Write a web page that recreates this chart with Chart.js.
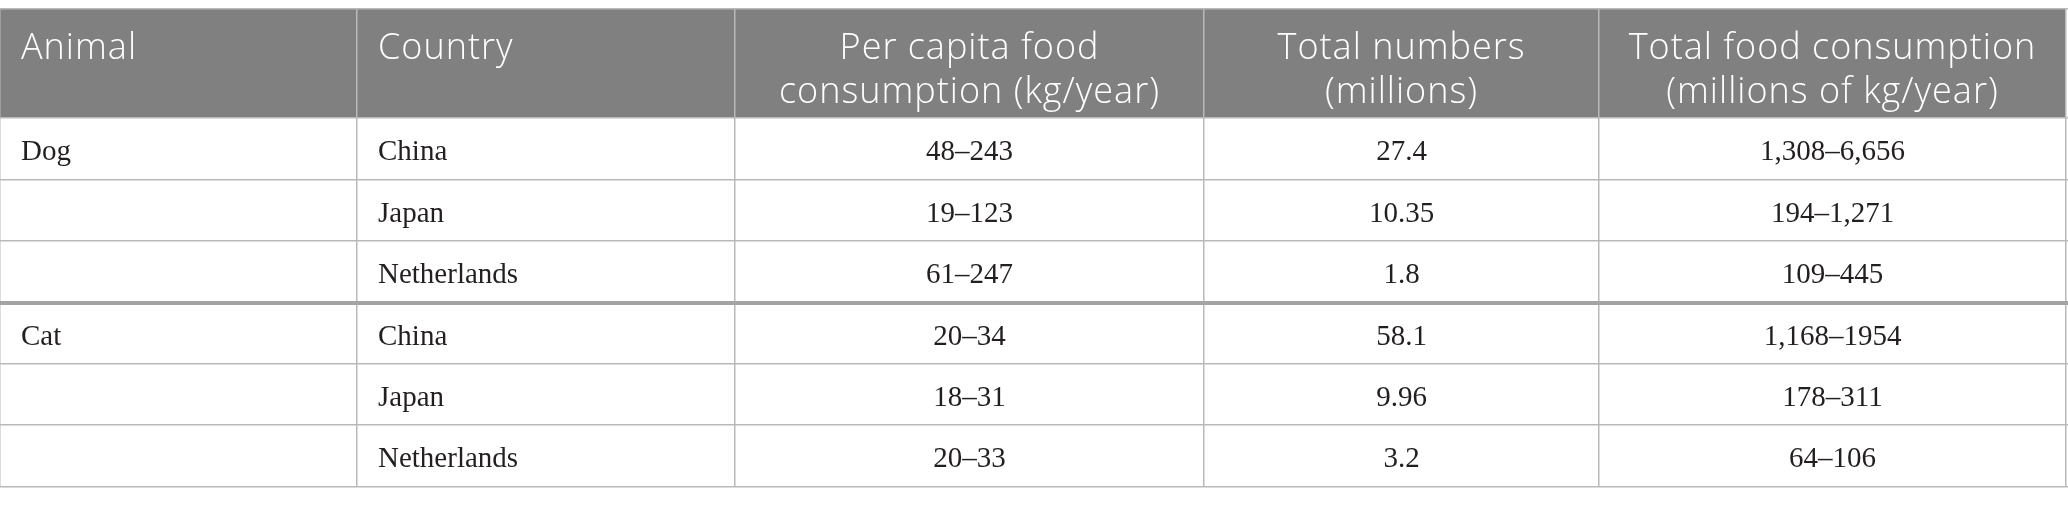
<!DOCTYPE html>
<html>
<head>
<meta charset="utf-8">
<script src="https://cdn.jsdelivr.net/npm/chart.js@4.4.1/dist/chart.umd.min.js"></script>
<style>
  html, body { margin: 0; padding: 0; background: #fff; }
  #wrap { width: 2068px; height: 505px; }
</style>
</head>
<body>
<div id="wrap"><canvas id="tableChart" width="2068" height="505"></canvas></div>
<script>
// table content
const headers = [
    ['Animal'],
    ['Country'],
    ['Per capita food', 'consumption (kg/year)'],
    ['Total numbers', '(millions)'],
    ['Total food consumption', '(millions of kg/year)']
];
const animals = ['Dog', '', '', 'Cat', '', ''];
const countries = ['China', 'Japan', 'Netherlands', 'China', 'Japan', 'Netherlands'];
const perCapita = ['48–243', '19–123', '61–247', '20–34', '18–31', '20–33'];
const totalNumbers = ['27.4', '10.35', '1.8', '58.1', '9.96', '3.2'];
const totalFood = ['1,308–6,656', '194–1,271', '109–445', '1,168–1954', '178–311', '64–106'];

// layout of the grid (table units = pixels)
const colEdges = [0, 357, 735, 1204, 1599, 2066];
const rowEdges = [9, 118, 180, 241, 303, 364, 425, 487];
const groupBreak = 303;
const leftPad = [21, 21];

const lineColor = '#b9b9b9';
const headerFill = '#808080';

const tablePlugin = {
    id: 'tablePlugin',
    beforeDraw(chart) {
        const ctx = chart.ctx;
        const x = chart.scales.x, y = chart.scales.y;
        const x0 = x.getPixelForValue(colEdges[0]);
        const x1 = x.getPixelForValue(colEdges[colEdges.length - 1]);
        const y0 = y.getPixelForValue(rowEdges[0]);
        const y1 = y.getPixelForValue(rowEdges[1]);
        ctx.save();
        ctx.fillStyle = headerFill;
        ctx.fillRect(x0, y0, x1 - x0, y1 - y0);
        ctx.restore();
    },
    afterDraw(chart) {
        const ctx = chart.ctx;
        const x = chart.scales.x, y = chart.scales.y;
        const columns = [animals, countries, perCapita, totalNumbers, totalFood];

        function colX(i) {
            if (i < 2) return x.getPixelForValue(colEdges[i] + leftPad[i]);
            return x.getPixelForValue((colEdges[i] + colEdges[i + 1]) / 2);
        }

        ctx.save();
        ctx.textBaseline = 'alphabetic';

        // header
        ctx.fillStyle = '#ffffff';
        ctx.font = '300 36px "Open Sans"';
        ctx.letterSpacing = '1px';
        const hTop = y.getPixelForValue(rowEdges[0]);
        headers.forEach(function(lines, i) {
            ctx.textAlign = i < 2 ? 'left' : 'center';
            lines.forEach(function(t, k) {
                ctx.fillText(t, colX(i), hTop + 50 + k * 44);
            });
        });

        // body
        ctx.letterSpacing = '0px';
        ctx.fillStyle = '#231f20';
        ctx.font = '29px "Liberation Serif"';
        columns.forEach(function(col, i) {
            ctx.textAlign = i < 2 ? 'left' : 'center';
            col.forEach(function(t, r) {
                const mid = (y.getPixelForValue(rowEdges[r + 1]) + y.getPixelForValue(rowEdges[r + 2])) / 2;
                ctx.fillText(t, colX(i), mid + 11);
            });
        });
        ctx.restore();
    }
};

const config = {
    type: 'scatter',
    data: { datasets: [{ data: [] }] },
    options: {
        responsive: false,
        animation: false,
        devicePixelRatio: 1,
        layout: {
            padding: { left: 0, right: 0, top: rowEdges[0], bottom: 505 - rowEdges[rowEdges.length - 1] }
        },
        plugins: { legend: { display: false }, tooltip: { enabled: false } },
        scales: {
            x: {
                type: 'linear',
                min: 0,
                max: 2068,
                ticks: { display: false },
                border: { display: false },
                grid: { drawTicks: false, color: lineColor, lineWidth: 1.5 },
                afterBuildTicks: function(s) { s.ticks = colEdges.map(v => ({ value: v })); }
            },
            y: {
                type: 'linear',
                reverse: true,
                min: rowEdges[0],
                max: rowEdges[rowEdges.length - 1],
                ticks: { display: false },
                border: { display: false },
                grid: {
                    drawTicks: false,
                    color: c => c.tick && c.tick.value === groupBreak ? '#a4a4a4' : lineColor,
                    lineWidth: c => c.tick && c.tick.value === groupBreak ? 4 : 1.5
                },
                afterBuildTicks: function(s) { s.ticks = rowEdges.map(v => ({ value: v })); }
            }
        }
    },
    plugins: [tablePlugin]
};

const tableChart = new Chart(document.getElementById('tableChart'), config);
</script>
</body>
</html>
